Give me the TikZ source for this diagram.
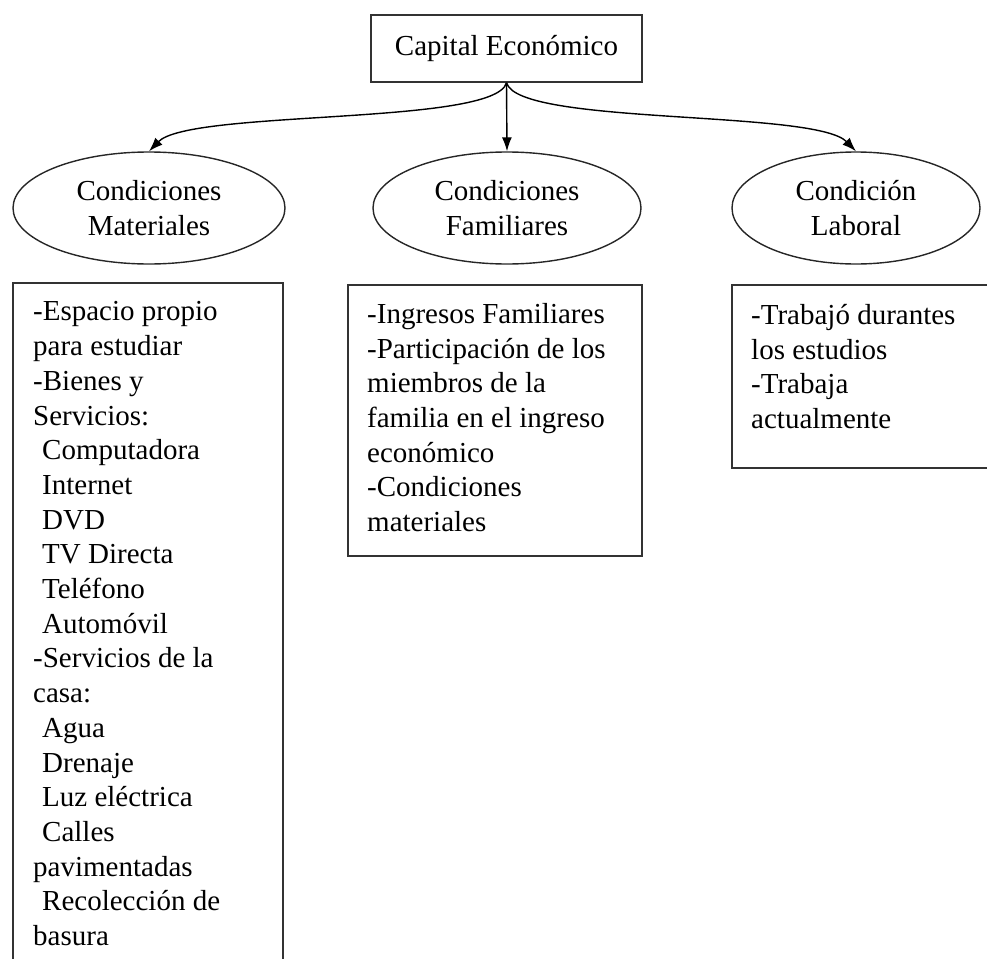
\documentclass[tikz,border=0pt]{standalone}
\usepackage{fontspec}
\setmainfont{Liberation Serif}
\usetikzlibrary{shapes.geometric,arrows.meta}
\begin{document}
\begin{tikzpicture}[x=1pt,y=-1pt,font=\fontsize{29}{34.7}\selectfont,
oval/.style={draw=black!85,line width=1.4pt,ellipse,minimum height=112,inner sep=0pt,align=center},
box/.style={draw=black!80,line width=1.6pt},
lst/.style={anchor=north west,inner sep=0pt,align=left},
arr/.style={line width=1.4pt,-{Latex[length=14pt,width=10pt]}}]
\useasboundingbox (0,0) rectangle (987,958);
\node[box,minimum width=271,minimum height=67] (capital) at (506.5,48.5) {Capital Económico};
\foreach \x/\w/\nm/\lab in {149/272/matl/{Condiciones\\Materiales},507/268/fam/{Condiciones\\Familiares},856/248/lab/{Condición\\Laboral}}
\node[oval,minimum width=\w] (\nm) at (\x,208) {\lab};
\draw[arr] (capital.south) .. controls +(-12,43) and +(41,-42) .. (matl.north);
\draw[arr] (capital.south) -- (fam.north);
\draw[arr] (capital.south) .. controls +(12,43) and +(-41,-42) .. (lab.north);
\draw[box] (13,283) rectangle (283,975);
\draw[box] (348,285) rectangle (642,556);
\draw[box] (732,285) rectangle (995,468);
\node[lst] (matlitems) at (33,301.5) {-Espacio propio\\para estudiar\\-Bienes y\\Servicios:\\
\hspace*{9pt}Computadora\\\hspace*{9pt}Internet\\\hspace*{9pt}DVD\\\hspace*{9pt}TV Directa\\
\hspace*{9pt}Teléfono\\\hspace*{9pt}Automóvil\\-Servicios de la\\casa:\\\hspace*{9pt}Agua\\
\hspace*{9pt}Drenaje\\\hspace*{9pt}Luz eléctrica\\\hspace*{9pt}Calles\\pavimentadas\\
\hspace*{9pt}Recolección de\\basura};
\node[lst] (famitems) at (367,303) {-Ingresos Familiares\\-Participación de los\\miembros de la\\familia en el ingreso\\económico\\-Condiciones\\materiales};
\node[lst] (labitems) at (751,304) {-Trabajó durantes\\los estudios\\-Trabaja\\actualmente};
\end{tikzpicture}
\end{document}
